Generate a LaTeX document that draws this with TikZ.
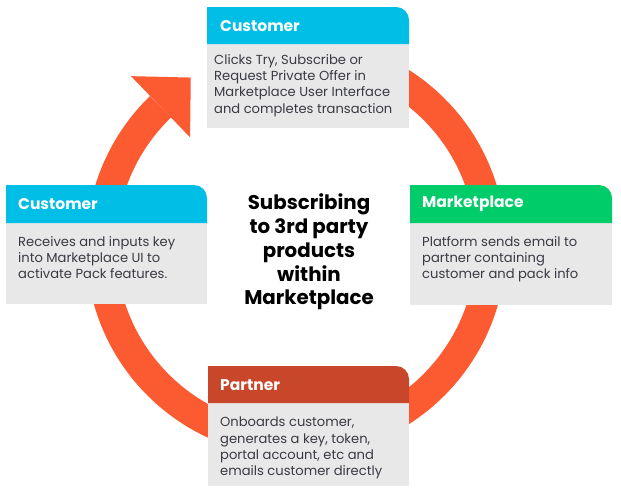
\documentclass[tikz,border=0pt]{standalone}
\usepackage{fontspec}
\setmainfont{Poppins}
\usetikzlibrary{calc}
\definecolor{ringc}{HTML}{FC5A31}
\definecolor{cyanc}{HTML}{00BEE6}
\definecolor{greenc}{HTML}{00CC69}
\definecolor{partc}{HTML}{C8472A}
\definecolor{bodyc}{HTML}{E8E8E8}
\definecolor{txtc}{HTML}{3A3A44}
\tikzset{
  hdrtxt/.style={anchor=west, inner sep=0pt, text=white, font=\fontsize{15.5}{18}\selectfont\bfseries},
  bodytxt/.style={anchor=north west, inner sep=0pt, align=left, text=txtc, font=\fontsize{13.1}{16.3}\selectfont},
  titletxt/.style={inner sep=0pt, align=center, text=black, font=\fontsize{19.8}{23.8}\selectfont\bfseries},
  ring/.style={draw=ringc, line width=30pt},
}
\newcommand{\mycard}[6]{% x1, y1(top), x2, yh(header bottom), y2(bottom), color
  \fill[bodyc] (#1,#4) rectangle (#3,#5);
  \fill[#6] (#1,#4) -- (#1,#2) [rounded corners=13pt] -- (#3,#2) [sharp corners] -- (#3,#4) -- cycle;
}
\begin{document}
\begin{tikzpicture}[x=1pt,y=-1pt]
\useasboundingbox[fill=white] (0,0) rectangle (621,493);
\coordinate (c) at (296,247);
% ring with arrow
\draw[ring] ($(c)+(-100:195)$) arc (-100:226:195);
\fill[ringc] ($(c)+(226:195)+(226:42.5)$) -- ($(c)+(226:195)+(316:42)$) -- ($(c)+(226:195)+(46:42.5)$) -- cycle;
% cards
\mycard{207}{7}{409}{44}{128}{cyanc}
\mycard{6}{185}{207}{223}{304}{cyanc}
\mycard{410}{185}{612}{223}{305}{greenc}
\mycard{208}{366}{409}{403}{486}{partc}
% texts
\node[hdrtxt] (h1) at (220,26) {Customer};
\node[bodytxt] (b1) at (214,54) {Clicks Try, Subscribe or\\Request Private Offer in\\Marketplace User Interface\\and completes transaction};
\node[hdrtxt] (h2) at (18,204) {Customer};
\node[bodytxt] (b2) at (18,236) {Receives and inputs key\\into Marketplace UI to\\activate Pack features.};
\node[hdrtxt] (h3) at (422,204) {Marketplace};
\node[bodytxt] (b3) at (422,236) {Platform sends email to\\partner containing\\customer and pack info};
\node[hdrtxt] (h4) at (220,385) {Partner};
\node[bodytxt] (b4) at (220,417) {Onboards customer,\\generates a key, token,\\portal account, etc and\\emails customer directly};
\node[titletxt] (t) at (309,252) {Subscribing\\to 3rd party\\products\\within\\Marketplace};
\end{tikzpicture}
\end{document}
